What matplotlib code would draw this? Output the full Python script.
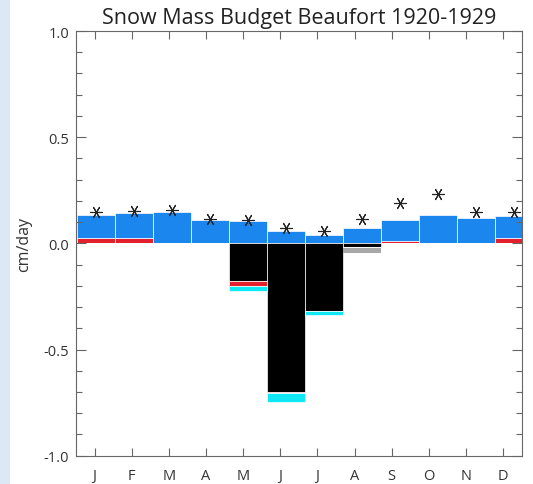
import numpy as np
import matplotlib
matplotlib.use("Agg")
import matplotlib.pyplot as plt
from matplotlib.patches import Rectangle

plt.rcParams['font.family'] = ['Open Sans', 'DejaVu Sans']
plt.rcParams['axes.unicode_minus'] = False

months = ['J', 'F', 'M', 'A', 'M', 'J', 'J', 'A', 'S', 'O', 'N', 'D']
# positive part
red_pos = [0.025, 0.025, 0.004, 0.0, 0.0, 0.0, 0.0, 0.0, 0.010, 0.0, 0.003, 0.023]
blue_top = [0.135, 0.143, 0.146, 0.111, 0.103, 0.057, 0.040, 0.074, 0.111, 0.135, 0.119, 0.130]
# negative part (stacked downward)
black_neg = [0.0, 0.0, 0.0, 0.0, -0.176, -0.700, -0.320, -0.016, 0.0, 0.0, 0.0, 0.0]
red_neg = [0.0, 0.0, 0.0, 0.0, -0.027, -0.006, 0.0, 0.0, 0.0, 0.0, 0.0, 0.0]
cyan_neg = [0.0, 0.0, 0.0, 0.0, -0.023, -0.040, -0.018, 0.0, 0.0, 0.0, 0.0, 0.0]
gray_neg = [0.0, 0.0, 0.0, 0.0, 0.0, 0.0, 0.0, -0.022, 0.0, 0.0, 0.0, 0.0]
net = [0.146, 0.154, 0.158, 0.114, 0.111, 0.071, 0.059, 0.114, 0.188, 0.232, 0.149, 0.146]

c_blue = '#1a86ee'
c_red = '#e3202b'
c_cyan = '#10e8f5'
c_gray = '#a8a8a8'

fig = plt.figure(figsize=(5.33, 4.85), dpi=100)
fig.patches.append(Rectangle((0, 0), 10 / 533, 1, transform=fig.transFigure,
                             facecolor='#dce8f5', edgecolor='none', zorder=0))
ax = fig.add_axes([76 / 533, 1 - 456.7 / 485, 445.7 / 533, 424.7 / 485])

bw = 1.023
x = 0.04 + bw * np.arange(12)
red_pos = np.array(red_pos)
blue_top = np.array(blue_top)
black_neg = np.array(black_neg)
red_neg = np.array(red_neg)
cyan_neg = np.array(cyan_neg)
gray_neg = np.array(gray_neg)

kw = dict(width=bw, align='edge', edgecolor='white', linewidth=0.5)
ax.bar(x, red_pos, color=c_red, **kw)
ax.bar(x, blue_top - red_pos, bottom=red_pos, color=c_blue, **kw)
ax.bar(x, black_neg, color='black', **kw)
ax.bar(x, red_neg, bottom=black_neg, color=c_red, **kw)
ax.bar(x, cyan_neg, bottom=black_neg + red_neg, color=c_cyan, **kw)
ax.bar(x, gray_neg, bottom=black_neg + red_neg + cyan_neg - 0.006, color=c_gray,
       width=bw, align='edge', edgecolor='none')
ax.plot(x + bw / 2, net, linestyle='none', marker=(6, 2, 90), markersize=9,
        color='#222222', markeredgewidth=0.8)

ax.set_xlim(0, 12)
ax.set_ylim(-1.0, 1.0)
ax.set_xticks(np.arange(12) + 0.5)
ax.set_xticklabels(months)
ax.set_yticks([-1.0, -0.5, 0.0, 0.5, 1.0])
ax.set_yticklabels(['-1.0', '-0.5', '0.0', '0.5', '1.0'])
ax.set_yticks(np.arange(-1.0, 1.01, 0.1), minor=True)
ax.tick_params(axis='both', which='both', direction='in', top=True, right=True,
               colors='#666666', labelcolor='#333333', labelsize=10.5, width=0.8)
ax.tick_params(axis='x', which='major', length=6, pad=9)
ax.tick_params(axis='y', which='major', length=7, pad=5)
ax.tick_params(axis='y', which='minor', length=4)
for s in ax.spines.values():
    s.set_color('#666666')
    s.set_linewidth(0.8)

ax.set_ylabel('cm/day', fontsize=11.5, color='#333333', labelpad=8)
ax.set_title('Snow Mass Budget Beaufort 1920-1929', fontsize=15.5, color='#222222', pad=6)

fig.savefig('out.png', dpi=100)
